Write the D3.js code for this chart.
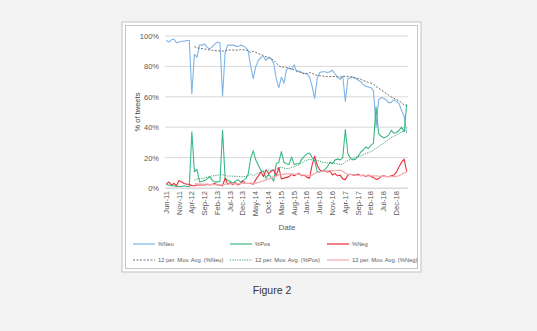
<!DOCTYPE html>
<html><head><meta charset="utf-8">
<script src="https://cdn.jsdelivr.net/npm/d3@7"></script>
<style>
html,body{margin:0;padding:0;background:#f3f3f3;}
svg{display:block;}
text{font-family:"Liberation Sans",Arial,sans-serif;}
</style></head>
<body>
<svg id="chart" width="537" height="331"></svg>
<script>
const categories = ["Jun-11","Jul-11","Aug-11","Sep-11","Oct-11","Nov-11","Dec-11",
"Jan-12","Feb-12","Mar-12","Apr-12","May-12","Jun-12","Jul-12","Aug-12","Sep-12","Oct-12","Nov-12","Dec-12",
"Jan-13","Feb-13","Mar-13","Apr-13","May-13","Jun-13","Jul-13","Aug-13","Sep-13","Oct-13","Nov-13","Dec-13",
"Jan-14","Feb-14","Mar-14","Apr-14","May-14","Jun-14","Jul-14","Aug-14","Sep-14","Oct-14","Nov-14","Dec-14",
"Jan-15","Feb-15","Mar-15","Apr-15","May-15","Jun-15","Jul-15","Aug-15","Sep-15","Oct-15","Nov-15","Dec-15",
"Jan-16","Feb-16","Mar-16","Apr-16","May-16","Jun-16","Jul-16","Aug-16","Sep-16","Oct-16","Nov-16","Dec-16",
"Jan-17","Feb-17","Mar-17","Apr-17","May-17","Jun-17","Jul-17","Aug-17","Sep-17","Oct-17","Nov-17","Dec-17",
"Jan-18","Feb-18","Mar-18","Apr-18","May-18","Jun-18","Jul-18","Aug-18","Sep-18","Oct-18","Nov-18","Dec-18",
"Jan-19","Feb-19","Mar-19","Apr-19"];

const tickLabels = ["Jun-11","Nov-11","Apr-12","Sep-12","Feb-13","Jul-13","Dec-13","May-14","Oct-14","Mar-15",
"Aug-15","Jan-16","Jun-16","Nov-16","Apr-17","Sep-17","Feb-18","Jul-18","Dec-18"];

const yTicks = [0,20,40,60,80,100];

const neu = [97,96,97.5,98,95.5,96,96.5,96.5,97,97,
62,88,86,94,94,94.7,92.5,91.5,93,94.7,
96,95.5,60.5,89,94,94,94,93.5,93,94,
93.5,92.5,90.5,80,72,80,84,86,86.5,84,
86,85,82,72,66,73,69,78,79,78,
81,76.5,77,76,75.5,75,73,67,59,72,
76,76.5,76.5,76,76.5,77.5,75,73,71.5,73.5,
57,72,72.5,73,72,71,70,68,67,66.5,
66,64,40,58,59.5,59,58,56,56.5,58,
57,55.5,51,47,36];

const pos = [2.4,2,1.5,1.5,1,1,1,1.5,1,1,
37,10.7,12.3,4,4.5,5,6,7.5,5,4,
4,4.5,38,6.4,5,4.5,3,4.5,5.5,4,
5,6,9,19.5,24.5,18.4,15,11.5,10.7,6.5,
9,7,4.5,16,17,24,17,16,15.5,20.5,
15.5,16,16,19,21,22.5,23,20,18,11,
10.5,11,12,14,17,16,18.5,19,18.5,20,
38.5,22.5,19.5,18.5,19,21,23.5,25,27,26,
28,29.5,53.5,36,34,33,33.5,35,38,36,
36.5,38,40,37,55];

const neg = [2.6,4,2,3,1.5,5,4,3,2.5,2.5,
1.5,1.5,2,2,2,2,2.5,2,2.5,3,
2,2,1.5,6.4,2.5,3.5,2,3.5,2,3,
4.5,3,3,3,2.5,5.5,8,10.5,7.5,12,
9.5,11,12,8,13.5,6,6.5,7,7.5,9,
8,9,9.5,8,8.5,7,6.5,15,21,15,
12,11,11,10.5,11,8.6,9.5,8,8.5,6,
5.5,8.5,9,8.5,8.5,9,8,8.5,7.5,8.5,
7.5,7,5.7,6,7.5,8,7.5,7.5,8,8.5,
10.5,14,17,19,10.7];

const seriesNames = ["%Neu","%Pos","%Neg"];
const period = 12;

const svg = d3.select("#chart");

// frame
svg.append("rect").attr("x",122).attr("y",22).attr("width",299).attr("height",250)
  .attr("fill","#ffffff").attr("stroke","#cccccc").attr("stroke-width",1.2);
svg.append("rect").attr("x",125.5).attr("y",25.5).attr("width",292).attr("height",243)
  .attr("fill","#ffffff").attr("stroke","#c4c4c4").attr("stroke-width",1);

const x = d3.scaleBand().domain(d3.range(categories.length)).range([165,408]).paddingInner(0).paddingOuter(0);
const cx = i => x(i) + x.bandwidth()/2;
const y = d3.scaleLinear().domain([0,100]).range([188,36]);

// gridlines
svg.append("g").selectAll("line").data(yTicks).join("line")
  .attr("x1",165).attr("x2",408).attr("y1",d=>y(d)).attr("y2",d=>y(d))
  .attr("stroke","#d9d9d9").attr("stroke-width",1);

// y axis labels
const yAxis = d3.axisLeft(y).tickValues(yTicks).tickFormat(d=>d+"%").tickSize(0).tickPadding(4);
const gy = svg.append("g").attr("transform","translate(163,0)").call(yAxis);
gy.select(".domain").remove();
gy.selectAll("text").attr("fill","#595959").style("font-size","7.5px").style("font-family","Liberation Sans, Arial, sans-serif");

// x axis
const xAxis = d3.axisBottom(x).tickValues(d3.range(categories.length).filter(i=>tickLabels.includes(categories[i])))
  .tickFormat(i=>categories[i]).tickSize(0).tickPadding(0);
const gx = svg.append("g").attr("transform","translate(0,188)").call(xAxis);
gx.select(".domain").attr("stroke","#d9d9d9");
gx.selectAll("text").attr("fill","#595959").style("font-size","7.6px")
  .style("font-family","Liberation Sans, Arial, sans-serif")
  .attr("text-anchor","end").attr("dy","0.32em").attr("dx",0)
  .attr("transform","translate(0,3) rotate(-90)").attr("y",0).attr("x",0);

// axis titles
svg.append("text").attr("x",287).attr("y",230).attr("text-anchor","middle")
  .attr("fill","#595959").style("font-size","8px").text("Date");
svg.append("text").attr("transform","translate(140,112) rotate(-90)").attr("text-anchor","middle")
  .attr("fill","#404040").style("font-size","7.5px").text("% of tweets");

const line = d3.line().x((d,i)=>cx(i)).y(d=>y(d));
const maLine = d3.line().defined(d=>d!=null).x((d,i)=>cx(i)).y(d=>y(d));
function movAvg(arr){
  return arr.map((v,i)=> i<period-1 ? null : d3.mean(arr.slice(i-period+1,i+1)));
}

const styles = [
  {data:neu, color:"#7fb3e6", maColor:"#707070", maDash:"2,1.5", maWidth:1},
  {data:pos, color:"#3db884", maColor:"#3a9e72", maDash:"1.2,1.2", maWidth:1},
  {data:neg, color:"#e8303c", maColor:"#f2a9b0", maDash:null, maWidth:1.2}
];

// main lines
styles.forEach(s=>{
  svg.append("path").datum(s.data).attr("d",line).attr("fill","none")
    .attr("stroke",s.color).attr("stroke-width",1.1).attr("stroke-linejoin","round");
});
// moving averages
styles.forEach(s=>{
  const p = svg.append("path").datum(movAvg(s.data)).attr("d",maLine).attr("fill","none")
    .attr("stroke",s.maColor).attr("stroke-width",s.maWidth);
  if(s.maDash) p.attr("stroke-dasharray",s.maDash);
});

// legend
const legX = [133,230,327];
styles.forEach((s,k)=>{
  const g = svg.append("g");
  g.append("line").attr("x1",legX[k]).attr("x2",legX[k]+22).attr("y1",244).attr("y2",244)
    .attr("stroke",s.color).attr("stroke-width",1.2);
  g.append("text").attr("x",legX[k]+25).attr("y",246).attr("fill","#595959")
    .style("font-size","5.8px").text(seriesNames[k]);
  const l2 = g.append("line").attr("x1",legX[k]).attr("x2",legX[k]+22).attr("y1",260).attr("y2",260)
    .attr("stroke",s.maColor).attr("stroke-width",s.maWidth);
  if(s.maDash) l2.attr("stroke-dasharray",s.maDash);
  g.append("text").attr("x",legX[k]+25).attr("y",262).attr("fill","#595959")
    .style("font-size","5.8px").text("12 per. Mov. Avg. ("+seriesNames[k]+")");
});

svg.append("text").attr("x",272).attr("y",294).attr("text-anchor","middle")
  .attr("fill","#333333").style("font-size","10.5px").text("Figure 2");
</script>
</body></html>
